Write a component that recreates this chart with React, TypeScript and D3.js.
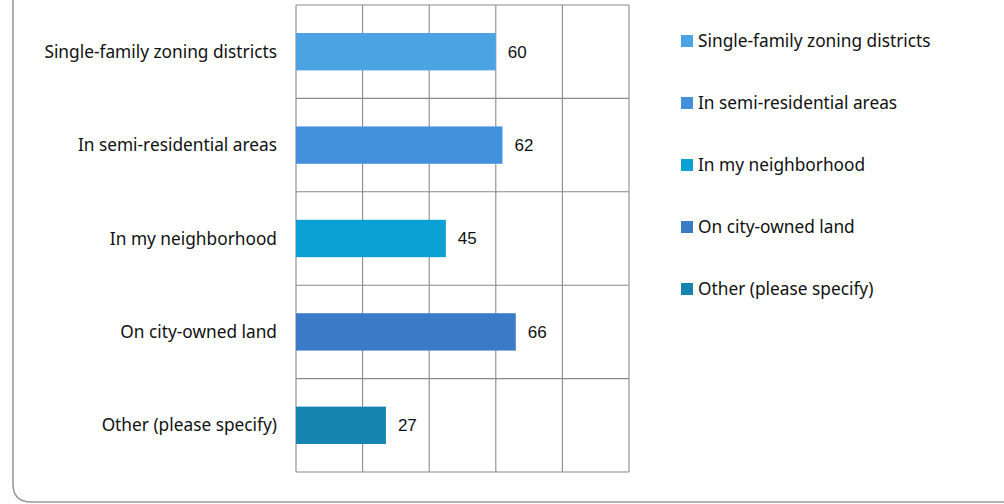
import React from "react";
import * as d3 from "d3";

const categories = [
  "Single-family zoning districts",
  "In semi-residential areas",
  "In my neighborhood",
  "On city-owned land",
  "Other (please specify)",
];
const values = [60, 62, 45, 66, 27];
const colors = ["#4BA3E3", "#4391DC", "#0AA0D4", "#3A7BC8", "#1584B0"];
const xTicks = [0, 20, 40, 60, 80, 100];

const W = 1004;
const H = 504;
const plot = { left: 296, right: 629, top: 5, bottom: 472 };
const labelFont = "'Noto Sans', sans-serif";

export default function App() {
  const x = d3.scaleLinear().domain([0, 100]).range([plot.left, plot.right]);
  const y = d3
    .scaleBand<string>()
    .domain(categories)
    .range([plot.top, plot.bottom])
    .paddingInner(0.6)
    .paddingOuter(0.3);
  const bandEdges = d3.range(categories.length + 1).map(
    (i) => plot.top + ((plot.bottom - plot.top) * i) / categories.length
  );
  const legendY = d3.scalePoint<string>().domain(categories).range([41, 289]);

  return (
    <div style={{ position: "fixed", left: 0, top: 0, width: W, height: H, background: "#fff" }}>
      <svg width={W} height={H} style={{ display: "block" }}>
        <rect width={W} height={H} fill="#fff" />
        {/* outer frame */}
        <path
          d={`M13,-20 L13,484 Q13,502 31,502 L1030,502`}
          fill="none"
          stroke="#9a9a9a"
          strokeWidth={1.6}
        />
        {/* gridlines */}
        {xTicks.map((t) => (
          <line
            key={"v" + t}
            x1={x(t)}
            x2={x(t)}
            y1={plot.top}
            y2={plot.bottom}
            stroke="#8a8a8a"
            strokeWidth={1.1}
          />
        ))}
        {bandEdges.map((e, i) => (
          <line
            key={"h" + i}
            x1={plot.left}
            x2={plot.right}
            y1={e}
            y2={e}
            stroke="#8a8a8a"
            strokeWidth={1.1}
          />
        ))}
        {/* bars */}
        {categories.map((c, i) => (
          <rect
            key={c}
            x={x(0)}
            y={y(c)}
            width={x(values[i]) - x(0)}
            height={y.bandwidth()}
            fill={colors[i]}
          />
        ))}
        {/* value labels */}
        {categories.map((c, i) => (
          <text
            key={"v" + c}
            x={x(values[i]) + 12}
            y={(y(c) as number) + y.bandwidth() / 2}
            dy="0.35em"
            fontFamily="'Liberation Sans', Arial, sans-serif"
            fontSize={17}
            fill="#111"
          >
            {values[i]}
          </text>
        ))}
        {/* category labels */}
        {categories.map((c) => (
          <text
            key={"c" + c}
            x={277}
            y={(y(c) as number) + y.bandwidth() / 2}
            dy="0.35em"
            textAnchor="end"
            fontFamily={labelFont}
            fontSize={17.3}
            fill="#111"
          >
            {c}
          </text>
        ))}
        {/* legend */}
        {categories.map((c, i) => (
          <g key={"l" + c} transform={`translate(681,${legendY(c)})`}>
            <rect x={0} y={-6} width={12} height={12} fill={colors[i]} />
            <text x={17} y={0} dy="0.35em" fontFamily={labelFont} fontSize={17.3} fill="#111">
              {c}
            </text>
          </g>
        ))}
      </svg>
    </div>
  );
}
